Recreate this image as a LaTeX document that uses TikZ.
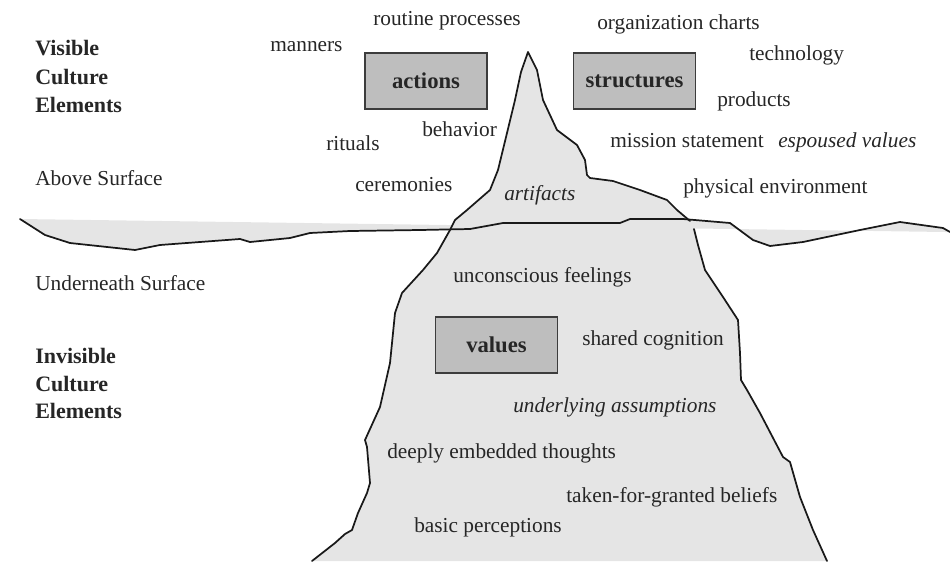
\documentclass[tikz,border=0pt]{standalone}
\usepackage{fontspec}
\setmainfont{Liberation Serif}
\definecolor{icegray}{RGB}{229,229,229}
\definecolor{boxgray}{RGB}{190,190,190}
\definecolor{inkline}{RGB}{25,25,25}
\definecolor{boxline}{RGB}{60,60,60}
\tikzset{
  lbl/.style={font=\fontsize{16}{19}\selectfont, inner sep=0pt, text height=11.5pt, text depth=3.5pt, anchor=west, text=black!85},
  itlbl/.style={lbl, font=\fontsize{16}{19}\selectfont\itshape},
  hdlbl/.style={lbl, font=\fontsize{16.5}{19}\selectfont\bfseries},
  boxnode/.style={draw=boxline, line width=1.4pt, fill=boxgray, minimum width=91.5pt, minimum height=42pt, inner sep=0pt, font=\fontsize{17}{20}\selectfont\bfseries, text=black!85},
  outline/.style={draw=inkline, line width=1.3pt, line join=round, line cap=round}
}
\begin{document}
\begin{tikzpicture}[x=0.75pt, y=-0.75pt]
\useasboundingbox (0,0) rectangle (950,561);
% water band
\fill[icegray] (20,219) -- (945,232) -- (950,232) -- (943,228) -- (900,222) -- (860,230) -- (803,242) -- (770,246) -- (753,240) -- (730,223) -- (683,219) -- (630,219) -- (620,223) -- (503,223) -- (470,229) -- (420,230) -- (350,231) -- (310,233) -- (290,238) -- (250,242) -- (240,239) -- (160,245) -- (135,250) -- (70,243) -- (45,235) -- cycle;
% iceberg fill
\fill[icegray] (312,561) -- (335,543) -- (345,534) -- (352,530) -- (358,513) -- (367,493) -- (370,483) -- (367,447) -- (365,440) -- (380,407) -- (390,363) -- (395,313) -- (402,293) -- (423,270) -- (437,253) -- (450,230) -- (455,220) -- (467,210) -- (490,190) -- (498,170) -- (507,133) -- (515,100) -- (521,72) -- (528,52) -- (537,70) -- (543,100) -- (557,130) -- (577,145) -- (585,160) -- (587,175) -- (590,178) -- (613,181) -- (640,190) -- (667,200) -- (677,210) -- (690,221) -- (694,229) -- (698,245) -- (705,270) -- (723,297) -- (738,320) -- (740,353) -- (741,380) -- (747,390) -- (760,413) -- (783,457) -- (790,462) -- (800,497) -- (813,530) -- (827,561) -- cycle;
% outlines
\coordinate (lb) at (312,561);
\coordinate (rt) at (690,221);
\coordinate (rs) at (694,229);
\coordinate (rb) at (827,561);
\coordinate (wl) at (20,219);
\coordinate (wr) at (950,232);
\draw[outline] (lb) -- (335,543) -- (345,534) -- (352,530) -- (358,513) -- (367,493) -- (370,483) -- (367,447) -- (365,440) -- (380,407) -- (390,363) -- (395,313) -- (402,293) -- (423,270) -- (437,253) -- (450,230) -- (455,220) -- (467,210) -- (490,190) -- (498,170) -- (507,133) -- (515,100) -- (521,72) -- (528,52) -- (537,70) -- (543,100) -- (557,130) -- (577,145) -- (585,160) -- (587,175) -- (590,178) -- (613,181) -- (640,190) -- (667,200) -- (677,210) -- (rt);
\draw[outline] (rs) -- (698,245) -- (705,270) -- (723,297) -- (738,320) -- (740,353) -- (741,380) -- (747,390) -- (760,413) -- (783,457) -- (790,462) -- (800,497) -- (813,530) -- (rb);
\draw[outline] (wl) -- (45,235) -- (70,243) -- (135,250) -- (160,245) -- (240,239) -- (250,242) -- (290,238) -- (310,233) -- (350,231) -- (420,230) -- (470,229) -- (503,223) -- (620,223) -- (630,219) -- (683,219) -- (730,223) -- (753,240) -- (770,246) -- (803,242) -- (860,230) -- (900,222) -- (943,228) -- (wr);
% boxes
\node[boxnode] (actions) at (426,81) {actions};
\node[boxnode] (structures) at (634.5,81) {structures};
\node[boxnode] (values) at (496.5,345) {values};
% left headings
\node[hdlbl] (vis1) at (35,50) {Visible};
\node[hdlbl] (vis2) at (35,79) {Culture};
\node[hdlbl] (vis3) at (35,107) {Elements};
\node[lbl] (above) at (35,180) {Above Surface};
\node[lbl] (under) at (35,285) {Underneath Surface};
\node[hdlbl] (inv1) at (35,358) {Invisible};
\node[hdlbl] (inv2) at (35,386) {Culture};
\node[hdlbl] (inv3) at (35,413) {Elements};
% visible labels
\node[lbl] (routine) at (373,20) {routine processes};
\node[lbl] (orgcharts) at (597,24) {organization charts};
\node[lbl] (manners) at (270,46) {manners};
\node[lbl] (tech) at (749,55) {technology};
\node[lbl] (products) at (717,101) {products};
\node[lbl] (mission) at (610,142) {mission statement};
\node[itlbl] (espoused) at (778,142) {espoused values};
\node[lbl] (physical) at (683,188) {physical environment};
\node[lbl] (behavior) at (422,131) {behavior};
\node[lbl] (rituals) at (326,145) {rituals};
\node[lbl] (ceremonies) at (355,186) {ceremonies};
\node[itlbl] (artifacts) at (504,195) {artifacts};
% invisible labels
\node[lbl] (unconscious) at (453,277) {unconscious feelings};
\node[lbl] (shared) at (582,340) {shared cognition};
\node[itlbl] (underlying) at (513,407) {underlying assumptions};
\node[lbl] (deeply) at (387,453) {deeply embedded thoughts};
\node[lbl] (taken) at (566,497) {taken-for-granted beliefs};
\node[lbl] (basic) at (414,527) {basic perceptions};
\end{tikzpicture}
\end{document}
